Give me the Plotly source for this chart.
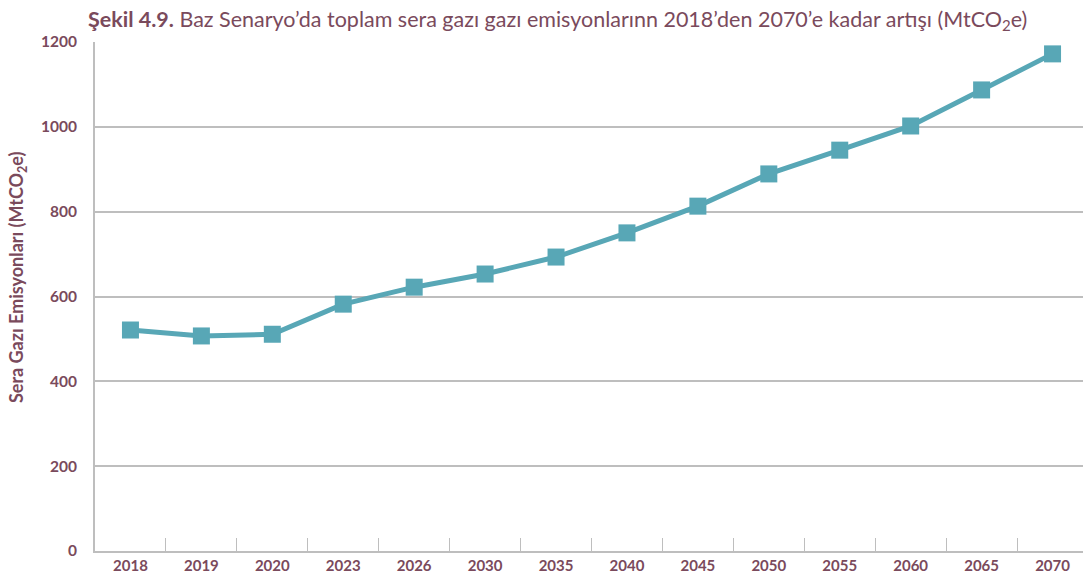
import plotly.graph_objects as go

years = ["2018", "2019", "2020", "2023", "2026", "2030", "2035", "2040",
         "2045", "2050", "2055", "2060", "2065", "2070"]
emissions = [521, 507, 511, 582, 622, 653, 693, 750, 813, 889, 945, 1002, 1087, 1172]
y_ticks = [0, 200, 400, 600, 800, 1000, 1200]

text_color = "#7A4A5C"
grid_color = "#BEBEBE"
line_color = "#58A7B6"

W, H = 1088, 586
L, R, T, B = 95, 0, 42, 35
plot_w = W - L - R
plot_h = H - T - B

fig = go.Figure()
fig.add_trace(go.Scatter(
    x=years, y=emissions, mode="lines+markers",
    line=dict(color=line_color, width=5),
    marker=dict(symbol="square", size=17, color=line_color),
    cliponaxis=False, showlegend=False,
))

fig.update_layout(
    width=W, height=H,
    margin=dict(l=L, r=R, t=T, b=B),
    paper_bgcolor="white", plot_bgcolor="white",
    font=dict(family="Lato", color=text_color),
    title=dict(
        text="<b>Şekil 4.9.</b> Baz Senaryo’da toplam sera gazı gazı emisyonlarınn 2018’den 2070’e kadar artışı (MtCO<sub>2</sub>e)",
        x=88 / W, xref="container", xanchor="left", y=1 - 19 / H, yref="container", yanchor="middle",
        font=dict(size=21.5, color=text_color, family="Lato"),
    ),
    xaxis=dict(
        type="category", range=[-0.5, len(years) - 0.5],
        showline=True, linecolor=grid_color, linewidth=2,
        ticks="inside", tickson="boundaries", ticklen=13, tickcolor=grid_color, tickwidth=1.2,
        showgrid=False,
        tickfont=dict(size=15, color=text_color, family="Lato", weight="bold"),
    ),
    yaxis=dict(
        range=[0, 1200], tickvals=y_ticks,
        showline=True, linecolor=grid_color, linewidth=2,
        gridcolor=grid_color, gridwidth=1.5, zeroline=False,
        ticks="", ticklabelstandoff=13,
        tickfont=dict(size=15.5, color=text_color, family="Lato", weight="bold"),
    ),
    annotations=[dict(
        text="Sera Gazı Emisyonları (MtCO<sub>2</sub>e)",
        textangle=-90, xref="paper", yref="paper",
        x=(17 - L) / plot_w, y=1 - (277 - T) / plot_h,
        xanchor="center", yanchor="middle", showarrow=False,
        font=dict(size=18, color=text_color, family="Lato", weight="bold"),
    )],
)

fig.write_html(
    "out.html",
    config={"displayModeBar": False},
    post_script="document.body.style.margin='0';document.body.style.overflow='hidden';",
)
